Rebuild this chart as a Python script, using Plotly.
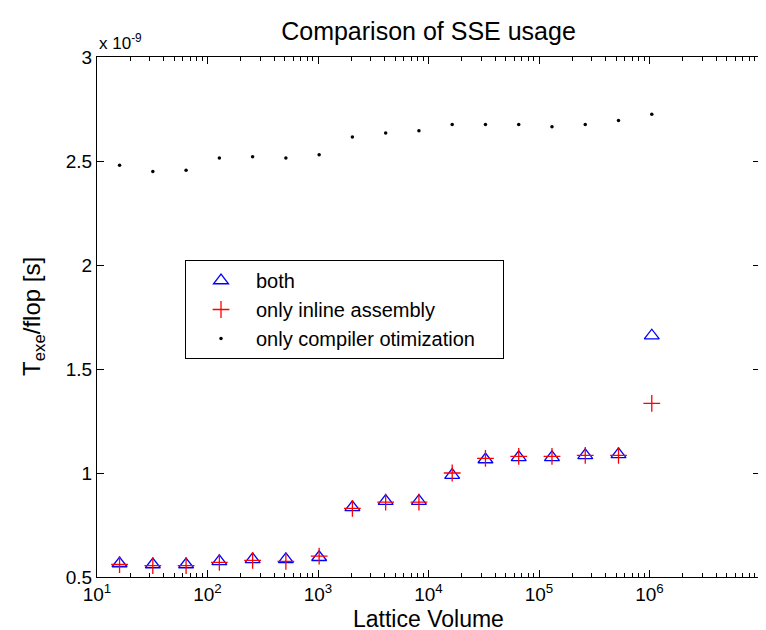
import plotly.graph_objects as go

lattice_volume = [16, 32, 64, 128, 256, 512, 1024, 2048, 4096, 8192, 16384,
                  32768, 65536, 131072, 262144, 524288, 1048576]
# T_exe/flop in units of 1e-9 s
both = [0.565, 0.56, 0.56, 0.575, 0.585, 0.585, 0.595, 0.835, 0.865, 0.865,
        0.99, 1.065, 1.075, 1.075, 1.085, 1.09, 1.66]
inline_only = [0.56, 0.555, 0.555, 0.57, 0.58, 0.575, 0.60, 0.83, 0.86, 0.86,
               1.0, 1.07, 1.08, 1.08, 1.085, 1.085, 1.335]
compiler_only = [2.48, 2.45, 2.455, 2.515, 2.52, 2.515, 2.53, 2.615, 2.635,
                 2.645, 2.675, 2.675, 2.675, 2.665, 2.675, 2.695, 2.725]
x_ticks = [10, 100, 1000, 10000, 100000, 1000000, 10000000]
x_tick_labels = ["10<sup>1</sup>", "10<sup>2</sup>", "10<sup>3</sup>", "10<sup>4</sup>",
                 "10<sup>5</sup>", "10<sup>6</sup>", "10<sup>7</sup>"]
y_ticks = [0.5, 1, 1.5, 2, 2.5, 3]
y_tick_labels = ["0.5", "1", "1.5", "2", "2.5", "3"]
series_names = ["both", "only inline assembly", "only compiler otimization"]

FONT = "Liberation Sans, Arial, Helvetica, sans-serif"
PAD = "\u00a0" * 4  # pad legend box width

W, H = 766, 630
ML, MR, MT, MB = 89, 14, 49, 61
PW, PH = W - ML - MR, H - MT - MB
BOTTOM = H - MB

fig = go.Figure()
fig.add_trace(go.Scatter(x=lattice_volume, y=both, mode="markers", name=series_names[0],
                         marker=dict(symbol="triangle-up-open", size=13, color="blue",
                                     line=dict(width=1.3, color="blue"))))
fig.add_trace(go.Scatter(x=lattice_volume, y=inline_only, mode="markers",
                         name=series_names[1],
                         marker=dict(symbol="cross-thin-open", size=12, color="red",
                                     line=dict(width=1.3, color="red"))))
fig.add_trace(go.Scatter(x=lattice_volume, y=compiler_only, mode="markers",
                         name=series_names[2] + PAD,
                         marker=dict(symbol="circle", size=3.5, color="black")))

axis_common = dict(showline=True, linecolor="black", linewidth=1, mirror="ticks",
                   ticks="inside", ticklen=7, tickcolor="black", showgrid=False,
                   zeroline=False, tickfont=dict(family=FONT, size=19, color="black"))

fig.update_xaxes(type="log", range=[1, 7], tickvals=x_ticks, ticktext=x_tick_labels,
                 minor=dict(ticks="inside", ticklen=4, tickcolor="black", showgrid=False,
                            tickvals=[m * 10 ** e for e in range(1, 7) for m in range(2, 10)]),
                 **axis_common)
fig.update_yaxes(range=[0.5, 3], tickvals=y_ticks, ticktext=y_tick_labels,
                 **axis_common)

# axis titles placed as annotations for exact positioning
fig.add_annotation(text="Lattice Volume", xref="paper", yref="paper", x=0.5,
                   y=-(611 - BOTTOM) / PH,
                   xanchor="center", yanchor="middle", showarrow=False,
                   font=dict(family=FONT, size=23, color="black"))
fig.add_annotation(text="T<sub>exe</sub>/flop [s]", xref="paper", yref="paper",
                   x=-64 / PW, y=(BOTTOM - 309) / PH, xanchor="center", yanchor="middle",
                   textangle=-90, showarrow=False,
                   font=dict(family=FONT, size=24, color="black"))
fig.add_annotation(text="x 10<sup>-9</sup>", xref="paper", yref="paper", x=0.0, y=1.0,
                   xanchor="left", yanchor="bottom", yshift=2, showarrow=False,
                   font=dict(family=FONT, size=17, color="black"))

fig.update_layout(
    width=W, height=H,
    margin=dict(l=ML, r=MR, t=MT, b=MB),
    paper_bgcolor="white", plot_bgcolor="white",
    title=dict(text="Comparison of SSE usage", x=0.5, xref="paper", xanchor="center",
               y=1 - 23 / H, yanchor="middle",
               font=dict(family=FONT, size=25, color="black")),
    font=dict(family=FONT, color="black"),
    legend=dict(x=(177 - ML) / PW, y=(BOTTOM - 252) / PH, xanchor="left", yanchor="top",
                bordercolor="black", borderwidth=1, bgcolor="white",
                font=dict(family=FONT, size=20, color="black"),
                tracegroupgap=0, itemwidth=60),
    showlegend=True,
)

fig.write_html("out.html")
